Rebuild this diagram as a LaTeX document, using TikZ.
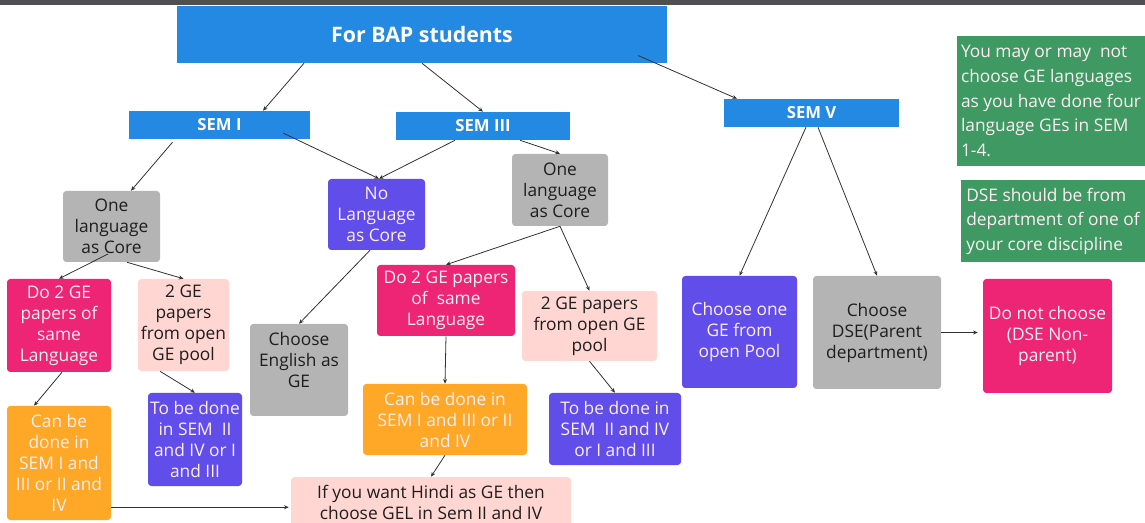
\documentclass[tikz,border=0pt]{standalone}
\usepackage{fontspec}
\setmainfont{Open Sans}
\usetikzlibrary{arrows.meta,calc}

\definecolor{bapblue}{RGB}{36,137,226}
\definecolor{notegreen}{RGB}{62,154,98}
\definecolor{boxgray}{RGB}{180,180,180}
\definecolor{boxpurple}{RGB}{97,77,234}
\definecolor{boxpink}{RGB}{238,36,116}
\definecolor{boxrose}{RGB}{255,214,210}
\definecolor{boxorange}{RGB}{255,168,40}
\definecolor{txtlight}{RGB}{252,238,242}
\definecolor{txtdark}{RGB}{30,30,30}
\definecolor{linegray}{RGB}{50,50,50}

\begin{document}
\begin{tikzpicture}[x=0.75pt,y=0.75pt,yscale=-1,xscale=1,
  box/.style={rounded corners=2.5pt,inner sep=1pt,align=center,font=\fontsize{13}{15.75}\selectfont},
  graybox/.style={box,fill=boxgray,text=txtdark},
  purplebox/.style={box,fill=boxpurple,text=txtlight},
  pinkbox/.style={box,fill=boxpink,text=txtlight},
  rosebox/.style={box,fill=boxrose,text=txtdark},
  orangebox/.style={box,fill=boxorange,text=txtlight},
  semhead/.style={fill=bapblue,text=white,inner sep=0pt,font=\bfseries\fontsize{12.5}{14}\selectfont},
  notebox/.style={fill=notegreen,text=txtlight,inner sep=2pt,align=left,font=\fontsize{13}{18.4}\selectfont},
  conn/.style={draw=linegray,line width=0.6pt,-{Stealth[length=3.5pt,width=3pt]}}]
\clip (0,0) rectangle (1145,523);
\fill[white] (0,0) rectangle (1145,523);
%top bar
\fill[fill={rgb,255:red,80;green,80;blue,84}] (0,0) rectangle (1145,5);

% Heading boxes
\node[semhead,minimum width=367.5pt,minimum height=42.75pt,font=\bfseries\fontsize{16}{18}\selectfont] (title) at (422,34.5) {For BAP students};
\node[semhead,minimum width=135.75pt,minimum height=21pt] (sem1) at (219.5,125) {SEM I};
\node[semhead,minimum width=130.5pt,minimum height=21pt] (sem3) at (483,126) {SEM III};
\node[semhead,minimum width=131.25pt,minimum height=21pt] (sem5) at (811.5,113) {SEM V};

% Notes
\node[notebox,minimum width=141pt,minimum height=97.5pt] (note1) at (1051,101) {You may or may\ \ not\\choose GE languages\\as you have done four\\language GEs in SEM\\1-4.};
\node[notebox,minimum width=138pt,minimum height=61.5pt] (note2) at (1053,221) {DSE should be from\\department of one of\\your core discipline};

% Second row
\node[graybox,minimum width=72.75pt,minimum height=53.25pt] (core1) at (111.5,226.5) {One\\language\\as Core};
\node[purplebox,minimum width=72.75pt,minimum height=53.25pt] (nolang) at (376.5,214.5) {No\\Language\\as Core};
\node[graybox,minimum width=72pt,minimum height=54pt] (core3) at (560,190) {One\\language\\as Core};

% Third row
\node[pinkbox,minimum width=78pt,minimum height=69.75pt] (same1) at (59,325.5) {Do 2 GE\\papers of\\same\\Language};
\node[rosebox,minimum width=68.25pt,minimum height=69pt] (pool1) at (183.5,325) {2 GE\\papers\\from open\\GE pool};
\node[graybox,minimum width=73.5pt,minimum height=69pt] (english) at (299,370) {Choose\\English as\\GE\\[-1pt]\mbox{}};
\node[pinkbox,minimum width=103.5pt,minimum height=53.25pt] (same3) at (446,300.5) {Do 2 GE papers\\of\ \ same\\Language};
\node[rosebox,minimum width=101.25pt,minimum height=52.5pt] (pool3) at (589.5,326) {2 GE papers\\from open GE\\pool};
\node[purplebox,minimum width=86.25pt,minimum height=84pt] (open5) at (739.5,332) {Choose one\\GE from\\open Pool};
\node[graybox,minimum width=96pt,minimum height=84.75pt] (dse) at (877,332.5) {Choose\\DSE(Parent\\department)};
\node[pinkbox,minimum width=96.75pt,minimum height=85.5pt] (nondse) at (1047.5,336) {Do not choose\\(DSE Non-\\parent)};

% Fourth row
\node[orangebox,minimum width=78pt,minimum height=85.5pt] (can1) at (59,463) {Can be\\done in\\SEM I and\\III or II and\\IV};
\node[purplebox,minimum width=70.5pt,minimum height=69.75pt] (todo1) at (195,439.5) {To be done\\in SEM\ \ II\\and IV or I\\and III};
\node[orangebox,minimum width=123pt,minimum height=53.25pt] (can3) at (445,419.5) {Can be done in\\SEM I and III or II\\and IV};
\node[purplebox,minimum width=99pt,minimum height=54pt] (todo3) at (615,429) {To be done in\\SEM\ \ II and IV\\or I and III};
\node[rosebox,minimum width=210pt,minimum height=37.5pt] (hindi) at (431,502) {If you want Hindi as GE then\\choose GEL in Sem II and IV};

% Connectors
\draw[conn] ($(title.south)+(-118,0)$) -- ($(sem1.north)+(43.5,0)$);
\draw[conn] (title.south) -- (sem3.north);
\draw[conn] ($(title.center)+(216,21)$) -- ($(sem5.north)+(-74.5,0)$);
\draw[conn] ($(sem1.south)+(-47,3)$) -- ($(core1.north)+(19.5,0)$);
\draw[conn] ($(sem1.center)+(63.5,8)$) -- ($(nolang.north)+(2.5,0)$);
\draw[conn] ($(sem3.south)+(-28,0)$) -- ($(nolang.north)+(2.5,0)$);
\draw[conn] ($(sem3.south)+(37,0)$) -- (core3.north);
\draw[conn] ($(core1.center)+(-3.5,27.5)$) -- (same1.north);
\draw[conn] ($(core1.south)+(15.5,0)$) -- (pool1.north);
\draw[conn] ($(nolang.south)+(-6.5,0)$) -- (english.north);
\draw[conn] (core3.south) -- (same3.north);
\draw[conn] (core3.south) -- (pool3.north);
\draw[conn] ($(sem5.south)+(-5.5,0)$) -- (open5.north);
\draw[conn] ($(sem5.south)+(6.5,0)$) -- (dse.north);
\draw[conn] (dse.east) -- ($(dse.east -| nondse.west)+(-5,0)$);
\draw[conn] ($(same1.south)+(3,0)$) -- ($(can1.north)+(-25,0)$);
\draw[conn] ($(pool1.south)+(-23.5,0)$) -- (todo1.north);
\draw[conn] (same3.south) -- (can3.north);
\draw[conn] (pool3.south) -- (todo3.north);
\draw[conn] (can3.south) -- (hindi.north);
\draw[conn] ($(can1.south east)+(0,-13)$) -- ($(can1.south east -| hindi.west)+(-2,-13)$);
\end{tikzpicture}
\end{document}
